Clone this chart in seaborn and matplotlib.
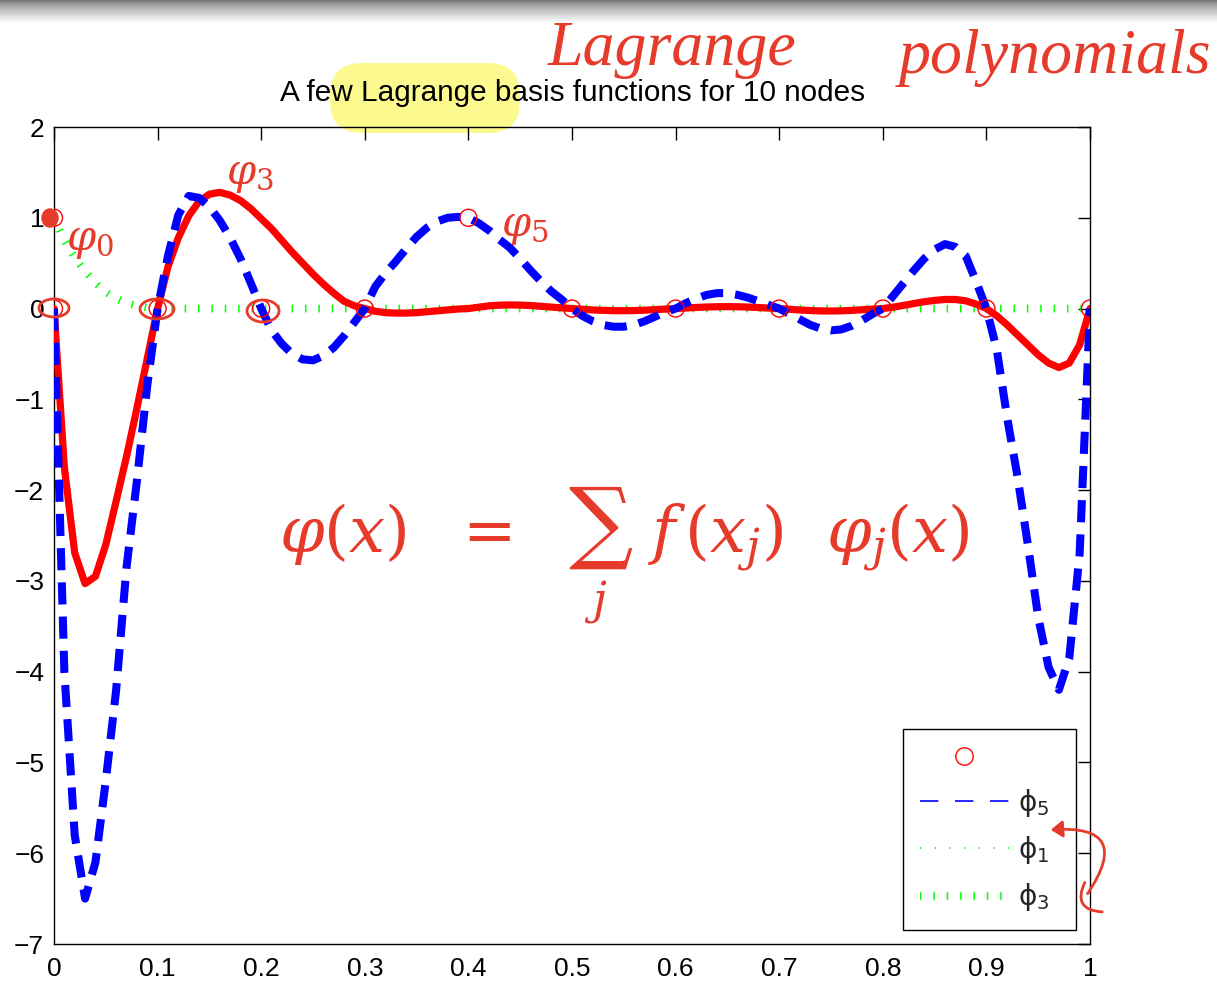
import numpy as np
import matplotlib
matplotlib.use("Agg")
import matplotlib.pyplot as plt
import seaborn as sns
from matplotlib.lines import Line2D
from matplotlib.patches import FancyBboxPatch, FancyArrowPatch, Ellipse
from matplotlib.transforms import IdentityTransform

# ---------------- data ----------------
x_grid = np.linspace(0.0, 1.0, 101)

phi5_vals = [
    0.00, -4.00, -5.80, -6.50, -6.10, -5.20, -4.20, -2.85, -1.90, -0.85,
    0.00, 0.58, 1.03, 1.24, 1.22, 1.12, 0.97, 0.78, 0.55, 0.28,
    0.00, -0.24, -0.39, -0.50, -0.56, -0.57, -0.52, -0.43, -0.30, -0.15,
    0.00, 0.24, 0.39, 0.52, 0.66, 0.79, 0.89, 0.96, 1.00, 1.01,
    1.00, 0.94, 0.86, 0.76, 0.67, 0.55, 0.42, 0.30, 0.19, 0.10,
    0.00, -0.08, -0.14, -0.18, -0.20, -0.20, -0.18, -0.14, -0.09, -0.04,
    0.00, 0.06, 0.11, 0.15, 0.17, 0.17, 0.15, 0.12, 0.08, 0.04,
    0.00, -0.06, -0.12, -0.18, -0.22, -0.24, -0.23, -0.19, -0.13, -0.06,
    0.00, 0.14, 0.28, 0.42, 0.55, 0.65, 0.71, 0.68, 0.58, 0.30,
    0.00, -0.45, -1.20, -1.85, -2.60, -3.40, -3.95, -4.20, -3.85, -2.70,
    0.00,
]

phi3_vals = [
    0.00, -1.75, -2.69, -3.03, -2.95, -2.60, -2.12, -1.63, -1.10, -0.55,
    0.00, 0.46, 0.78, 1.02, 1.18, 1.26, 1.28, 1.25, 1.19, 1.10,
    0.99, 0.88, 0.75, 0.62, 0.50, 0.38, 0.27, 0.17, 0.08, 0.03,
    0.00, -0.030, -0.045, -0.050, -0.050, -0.045, -0.035, -0.025, -0.015, -0.005,
    0.00, 0.015, 0.030, 0.037, 0.040, 0.038, 0.033, 0.025, 0.016, 0.008,
    0.00, -0.008, -0.015, -0.020, -0.023, -0.024, -0.022, -0.018, -0.012, -0.006,
    0.00, 0.006, 0.012, 0.017, 0.020, 0.021, 0.020, 0.016, 0.011, 0.005,
    0.00, -0.008, -0.016, -0.022, -0.026, -0.027, -0.025, -0.020, -0.013, -0.006,
    0.00, 0.015, 0.035, 0.055, 0.075, 0.090, 0.100, 0.100, 0.085, 0.050,
    0.00, -0.08, -0.18, -0.29, -0.40, -0.51, -0.60, -0.65, -0.60, -0.40,
    0.00,
]

phi1_x = [0.00, 0.01, 0.02, 0.03, 0.04, 0.05, 0.06, 0.07, 0.08, 0.09, 0.10, 1.00]
phi1_vals = [1.00, 0.75, 0.56, 0.41, 0.28, 0.18, 0.11, 0.06, 0.03, 0.01, 0.00, 0.00]

node_x = [0.0, 0.0, 0.1, 0.2, 0.3, 0.4, 0.5, 0.6, 0.7, 0.8, 0.9, 1.0]
node_y = [1.0, 0.0, 0.0, 0.0, 0.0, 1.0, 0.0, 0.0, 0.0, 0.0, 0.0, 0.0]

xtick_vals = [0.0, 0.1, 0.2, 0.3, 0.4, 0.5, 0.6, 0.7, 0.8, 0.9, 1.0]
xtick_labels = ["0", "0.1", "0.2", "0.3", "0.4", "0.5", "0.6", "0.7", "0.8", "0.9", "1"]
ytick_vals = [-7, -6, -5, -4, -3, -2, -1, 0, 1, 2]

legend_labels = ["", r"$\mathrm{ϕ}_5$", r"$\mathrm{ϕ}_1$", r"$\mathrm{ϕ}_3$"]
title_text = "A few Lagrange basis functions for 10 nodes"

# ---------------- style ----------------
sns.set_theme(style="white")
plt.rcParams["font.family"] = ["Liberation Sans", "DejaVu Sans"]
plt.rcParams["mathtext.fontset"] = "dejavusans"

W, H = 1217, 984
fig = plt.figure(figsize=(W / 100, H / 100), dpi=100)
fig.patch.set_facecolor("white")

ax = fig.add_axes([54 / W, 1 - 944 / H, 1036 / W, 817 / H])
ax.set_facecolor("none")

# green thick dotted curve
sns.lineplot(x=phi1_x, y=phi1_vals, ax=ax, color="#00ff00", linewidth=5.5,
             estimator=None, legend=False)
g = ax.lines[-1]
g.set_dashes([0.2, 1.55])
g.set_dash_capstyle("butt")
g.set_zorder(2)

# red solid curve
sns.lineplot(x=x_grid, y=phi3_vals, ax=ax, color="#ff0000", linewidth=5.2,
             estimator=None, legend=False)
r = ax.lines[-1]
r.set_zorder(3)

# blue dashed curve
sns.lineplot(x=x_grid, y=phi5_vals, ax=ax, color="#0000ff", linewidth=5.8,
             estimator=None, legend=False)
b = ax.lines[-1]
b.set_dashes([2.75, 1.5])
b.set_dash_capstyle("butt")
b.set_zorder(4)

# node circles
sns.scatterplot(x=node_x, y=node_y, ax=ax, marker="o", s=150, legend=False,
                color="#ff0000")
c = ax.collections[-1]
c.set_facecolor("none")
c.set_edgecolor("#ff0000")
c.set_linewidth(1.0)
c.set_zorder(5)

ax.set_xlim(0, 1)
ax.set_ylim(-7, 2)
ax.set_xticks(xtick_vals)
ax.set_xticklabels(xtick_labels)
ax.set_yticks(ytick_vals)
ax.set_yticklabels([str(v) if v >= 0 else "\u2212" + str(-v) for v in ytick_vals])
ax.tick_params(axis="both", which="major", direction="in", length=9, width=1.0,
               top=True, right=True, labelsize=19, colors="black", pad=7)
ax.tick_params(axis="x", pad=9)
for sp in ax.spines.values():
    sp.set_color("black")
    sp.set_linewidth(1.0)
ax.set_xlabel("")
ax.set_ylabel("")

# legend
handles = [
    Line2D([], [], linestyle="none", marker="o", markersize=12.5,
           markerfacecolor="none", markeredgecolor="#ff0000", markeredgewidth=1.0),
    Line2D([], [], color="#0000ff", linewidth=1.2, dashes=[11, 10]),
    Line2D([], [], color="#00ff00", linewidth=1.2, dashes=[0.8, 8]),
    Line2D([], [], color="#00ff00", linewidth=5.5, dashes=[0.2, 1.55],
           dash_capstyle="butt"),
]
leg = ax.legend(handles, legend_labels, loc="lower left",
                bbox_to_anchor=(0.8195, 0.0171, 0.167, 0.2485), mode="expand",
                fontsize=20, handlelength=3.2, handletextpad=0.35,
                labelspacing=0.55, borderpad=0.6, borderaxespad=0.0,
                frameon=True, fancybox=False, framealpha=1.0)
leg.get_frame().set_edgecolor("black")
leg.get_frame().set_linewidth(1.0)

# title with yellow highlight
hl = FancyBboxPatch((330, H - 133), 190, 70, boxstyle="round,pad=0,rounding_size=32",
                    transform=IdentityTransform(), facecolor="#fcfa8e",
                    edgecolor="none", zorder=-5)
fig.patches.append(hl)
fig.text(573 / W, 1 - 93 / H, title_text, ha="center", va="center",
         fontsize=21.4, color="black", zorder=10)

# grey shadow band at the top
band = fig.add_axes([0, 1 - 24 / H, 1, 24 / H])
grad = np.linspace(0.0, 1.0, 24) ** 0.7
band.imshow(np.tile((0.45 + 0.55 * grad)[:, None], (1, 10)), cmap="gray",
            vmin=0, vmax=1, aspect="auto", interpolation="bilinear")
band.axis("off")

# handwritten annotations
ink = "#e63b2b"
def ftxt(px, py, s, size, **kw):
    fig.text(px / W, 1 - py / H, s, ha="center", va="center", color=ink,
             fontsize=size, family=["Liberation Serif", "DejaVu Serif"],
             style="italic", math_fontfamily="dejavuserif", zorder=20, **kw)

ftxt(672, 50, "Lagrange", 46)
ftxt(1055, 58, "polynomials", 46)
ftxt(250, 176, r"$\varphi_3$", 30)
ftxt(90, 242, r"$\varphi_0$", 30)
ftxt(525, 228, r"$\varphi_5$", 30)
ftxt(624, 556, r"$\varphi(x)\ \ =\ \ \sum_{j}\ f\,(x_j)\ \ \varphi_j(x)$", 46)

# scribbles around nodes
for (px, py, w, h) in [(54, 308, 30, 18), (157, 309, 34, 20), (263, 311, 32, 22)]:
    fig.patches.append(Ellipse((px, H - py), w, h, transform=IdentityTransform(),
                               facecolor="none", edgecolor=ink, linewidth=2.0, zorder=20))
fig.patches.append(Ellipse((50, H - 218), 16, 18, transform=IdentityTransform(),
                           facecolor=ink, edgecolor=ink, linewidth=1.0, zorder=20))

arr = FancyArrowPatch((1086, H - 896), (1048, H - 830),
                      connectionstyle="arc3,rad=1.05", arrowstyle="-|>,head_length=7,head_width=5",
                      color=ink, linewidth=2.0, transform=IdentityTransform(), zorder=20)
fig.patches.append(arr)
hook = FancyArrowPatch((1086, H - 880), (1105, H - 912),
                       connectionstyle="arc3,rad=0.8", arrowstyle="-",
                       color=ink, linewidth=2.0, transform=IdentityTransform(), zorder=20)
fig.patches.append(hook)

fig.savefig("out.png", dpi=100)
